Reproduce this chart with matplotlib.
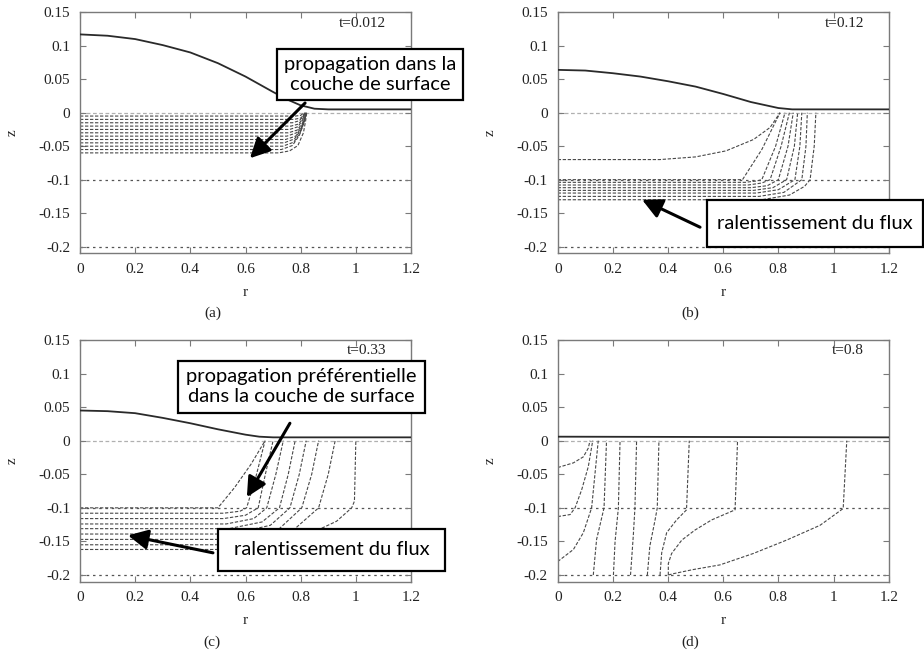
import matplotlib

matplotlib.use("Agg")
import matplotlib.pyplot as plt
from matplotlib.patches import Rectangle

# ---- data --------------------------------------------------------------
R_TICKS = [0, 0.2, 0.4, 0.6, 0.8, 1, 1.2]
Z_TICKS = [-0.2, -0.15, -0.1, -0.05, 0, 0.05, 0.1, 0.15]
R_TICK_LABELS = ["0", "0.2", "0.4", "0.6", "0.8", "1", "1.2"]
Z_TICK_LABELS = ["-0.2", "-0.15", "-0.1", "-0.05", "0", "0.05", "0.1", "0.15"]
LAYER_Z = [-0.1, -0.2]

TIMES = ["t=0.012", "t=0.12", "t=0.33", "t=0.8"]
PANEL_TAGS = ["(a)", "(b)", "(c)", "(d)"]

# free surface (solid line)
surf_a_r = [0, 0.1, 0.2, 0.3, 0.4, 0.5, 0.6, 0.7, 0.75, 0.8, 0.85, 0.9, 1.2]
surf_a_z = [0.117, 0.115, 0.110, 0.101, 0.090, 0.074, 0.054, 0.031, 0.020, 0.011, 0.006, 0.005, 0.005]
surf_b_r = [0, 0.1, 0.2, 0.3, 0.4, 0.5, 0.6, 0.7, 0.8, 0.85, 1.2]
surf_b_z = [0.064, 0.063, 0.059, 0.054, 0.047, 0.039, 0.028, 0.016, 0.007, 0.005, 0.005]
surf_c_r = [0, 0.1, 0.2, 0.3, 0.4, 0.5, 0.6, 0.65, 0.7, 1.2]
surf_c_z = [0.045, 0.044, 0.041, 0.034, 0.026, 0.017, 0.009, 0.006, 0.005, 0.005]
surf_d_r = [0, 1.2]
surf_d_z = [0.006, 0.005]

# front lines (dashed), one list per line
front_a_r = [
    [0, 0.78, 0.800, 0.812],
    [0, 0.775, 0.800, 0.810, 0.814],
    [0, 0.770, 0.795, 0.808, 0.815],
    [0, 0.765, 0.792, 0.808, 0.816],
    [0, 0.760, 0.790, 0.807, 0.817],
    [0, 0.755, 0.787, 0.806, 0.815, 0.818],
    [0, 0.750, 0.785, 0.805, 0.815, 0.819],
    [0, 0.745, 0.782, 0.803, 0.815, 0.820],
    [0, 0.740, 0.778, 0.800, 0.814, 0.820],
    [0, 0.735, 0.775, 0.798, 0.813, 0.821],
    [0, 0.730, 0.770, 0.795, 0.812, 0.821],
    [0, 0.720, 0.760, 0.790, 0.810, 0.818, 0.822],
]
front_a_z = [
    [-0.005, -0.005, -0.004, 0],
    [-0.010, -0.010, -0.008, -0.004, 0],
    [-0.015, -0.015, -0.012, -0.006, 0],
    [-0.020, -0.020, -0.017, -0.009, 0],
    [-0.025, -0.025, -0.021, -0.011, 0],
    [-0.030, -0.030, -0.026, -0.016, -0.007, 0],
    [-0.035, -0.035, -0.030, -0.019, -0.008, 0],
    [-0.040, -0.040, -0.035, -0.022, -0.009, 0],
    [-0.045, -0.045, -0.039, -0.026, -0.011, 0],
    [-0.050, -0.050, -0.044, -0.030, -0.013, 0],
    [-0.055, -0.055, -0.049, -0.034, -0.015, 0],
    [-0.060, -0.060, -0.057, -0.049, -0.030, -0.012, 0],
]

front_b_r = [
    [0, 0.37, 0.50, 0.61, 0.71, 0.77, 0.806],
    [0, 0.67, 0.74, 0.806],
    [0, 0.68, 0.72, 0.74, 0.79, 0.824],
    [0, 0.69, 0.74, 0.77, 0.81, 0.84],
    [0, 0.70, 0.76, 0.80, 0.835, 0.854],
    [0, 0.71, 0.78, 0.83, 0.858, 0.87],
    [0, 0.72, 0.80, 0.86, 0.878, 0.885],
    [0, 0.73, 0.82, 0.885, 0.90, 0.905],
    [0, 0.74, 0.84, 0.895, 0.915, 0.93, 0.936],
]
front_b_z = [
    [-0.07, -0.07, -0.066, -0.057, -0.040, -0.022, 0],
    [-0.100, -0.100, -0.055, 0],
    [-0.104, -0.104, -0.102, -0.100, -0.05, 0],
    [-0.108, -0.108, -0.105, -0.100, -0.05, 0],
    [-0.112, -0.112, -0.109, -0.100, -0.05, 0],
    [-0.116, -0.116, -0.112, -0.100, -0.05, 0],
    [-0.120, -0.120, -0.115, -0.100, -0.05, 0],
    [-0.125, -0.125, -0.119, -0.100, -0.05, 0],
    [-0.130, -0.130, -0.123, -0.110, -0.100, -0.05, 0],
]

front_c_r = [
    [0, 0.50, 0.56, 0.62, 0.671],
    [0, 0.52, 0.58, 0.604, 0.635, 0.671],
    [0, 0.52, 0.60, 0.646, 0.672, 0.70],
    [0, 0.53, 0.63, 0.677, 0.71, 0.737],
    [0, 0.54, 0.66, 0.723, 0.755, 0.78],
    [0, 0.55, 0.69, 0.761, 0.795, 0.82],
    [0, 0.56, 0.72, 0.804, 0.84, 0.865],
    [0, 0.57, 0.76, 0.865, 0.90, 0.925],
    [0, 0.58, 0.80, 0.93, 0.985, 0.995, 1.0],
]
front_c_z = [
    [-0.100, -0.100, -0.070, -0.035, 0],
    [-0.108, -0.108, -0.105, -0.100, -0.058, 0],
    [-0.116, -0.116, -0.111, -0.100, -0.05, 0],
    [-0.124, -0.124, -0.116, -0.100, -0.05, 0],
    [-0.131, -0.131, -0.121, -0.100, -0.05, 0],
    [-0.139, -0.139, -0.126, -0.100, -0.05, 0],
    [-0.147, -0.147, -0.132, -0.100, -0.05, 0],
    [-0.155, -0.155, -0.138, -0.100, -0.05, 0],
    [-0.162, -0.162, -0.145, -0.120, -0.100, -0.09, 0],
]

front_d_r = [
    [0, 0.057, 0.093, 0.111, 0.117],
    [0, 0.045, 0.063, 0.087, 0.111, 0.127],
    [0, 0.057, 0.093, 0.123, 0.135, 0.147],
    [0.129, 0.141, 0.168, 0.177],
    [0.202, 0.208, 0.220, 0.226],
    [0.264, 0.274, 0.280, 0.286],
    [0.325, 0.334, 0.353, 0.361, 0.367],
    [0.371, 0.377, 0.395, 0.431, 0.467, 0.477],
    [0.401, 0.401, 0.413, 0.450, 0.498, 0.558, 0.643, 0.652],
    [0.401, 0.42, 0.49, 0.588, 0.709, 0.830, 0.951, 1.035, 1.048],
]
front_d_z = [
    [-0.040, -0.033, -0.024, -0.011, 0],
    [-0.113, -0.110, -0.100, -0.073, -0.0385, 0],
    [-0.180, -0.162, -0.137, -0.100, -0.05, 0],
    [-0.200, -0.147, -0.100, 0],
    [-0.200, -0.150, -0.100, 0],
    [-0.200, -0.142, -0.100, 0],
    [-0.200, -0.157, -0.118, -0.100, 0],
    [-0.200, -0.167, -0.137, -0.118, -0.103, 0],
    [-0.200, -0.183, -0.168, -0.148, -0.133, -0.118, -0.103, 0],
    [-0.200, -0.198, -0.192, -0.185, -0.168, -0.148, -0.126, -0.101, 0],
]

SURF_R = [surf_a_r, surf_b_r, surf_c_r, surf_d_r]
SURF_Z = [surf_a_z, surf_b_z, surf_c_z, surf_d_z]
FRONT_R = [front_a_r, front_b_r, front_c_r, front_d_r]
FRONT_Z = [front_a_z, front_b_z, front_c_z, front_d_z]

# ---- figure --------------------------------------------------------------
W, H = 924, 652
fig = plt.figure(figsize=(W / 100, H / 100), dpi=100)

# panel boxes in pixels: left, top, width, height
boxes = [(80, 12.3, 331, 241), (557.7, 12.3, 331, 241),
         (80, 340, 331, 241.7), (557.7, 340, 331, 241.7)]

SERIF = "Liberation Serif"
SANS = "Lato"
FRAME = "#7a7a7a"

axes = []
for i, (l, t, w, h) in enumerate(boxes):
    ax = fig.add_axes([l / W, (H - t - h) / H, w / W, h / H])
    axes.append(ax)

    # layer boundaries
    ax.plot([0, 1.2], [0, 0], color="#b0b0b0", lw=0.9, ls=(0, (3, 2)), zorder=1)
    for zl in LAYER_Z:
        ax.plot([0, 1.2], [zl, zl], color="#555555", lw=0.9, ls=(0, (2, 3)), zorder=1)

    for fr, fz in zip(FRONT_R[i], FRONT_Z[i]):
        ax.plot(fr, fz, color="#484848", lw=0.8, ls=(0, (3, 1.5)), zorder=2)

    ax.plot(SURF_R[i], SURF_Z[i], color="#2a2a2a", lw=1.3, zorder=3)

    ax.set_xlim(0, 1.2)
    ax.set_ylim(-0.21, 0.15)
    ax.set_xticks(R_TICKS)
    ax.set_xticklabels(R_TICK_LABELS, family=SERIF, fontsize=11, color="#222222")
    ax.set_yticks(Z_TICKS)
    ax.set_yticklabels(Z_TICK_LABELS, family=SERIF, fontsize=11, color="#222222")
    ax.tick_params(direction="in", length=4, width=0.8, color=FRAME,
                   top=True, right=True, pad=7)
    for sp in ax.spines.values():
        sp.set_color(FRAME)
        sp.set_linewidth(1.0)

    ax.set_xlabel("r", family=SERIF, fontsize=11, labelpad=7, color="#222222")
    ax.set_ylabel("z", family=SERIF, fontsize=11, labelpad=14, color="#222222")
    ax.text(0.925, 0.955, TIMES[i], transform=ax.transAxes, ha="right", va="center",
            family=SERIF, fontsize=11, color="#222222")
    ax.text(0.40, -0.25, PANEL_TAGS[i], transform=ax.transAxes, ha="center",
            va="center", family=SERIF, fontsize=11, color="#222222")

# ---- callouts ------------------------------------------------------------
arrow_style = dict(arrowstyle="-|>,head_length=0.6,head_width=0.3", lw=2.2,
                   color="black", mutation_scale=20, shrinkA=0, shrinkB=0)


def callout(ax, text, box, tail, head):
    r0, z0, r1, z1 = box
    ax.annotate("", xy=head, xytext=tail, arrowprops=arrow_style,
                annotation_clip=False, zorder=9)
    ax.add_patch(Rectangle((r0, z0), r1 - r0, z1 - z0, fc="white", ec="black",
                           lw=1.6, clip_on=False, zorder=10))
    ax.text((r0 + r1) / 2, (z0 + z1) / 2, text, ha="center", va="center",
            family=SANS, fontsize=14.5, zorder=11, clip_on=False, linespacing=1.2)


callout(axes[0], "propagation dans la\ncouche de surface", (0.714, 0.019, 1.389, 0.095),
        (0.816, 0.0145), (0.616, -0.068))
callout(axes[1], "ralentissement du flux", (0.541, -0.2006, 1.325, -0.1304),
        (0.516, -0.171), (0.306, -0.130))
callout(axes[2], "propagation préférentielle\ndans la couche de surface",
        (0.355, 0.0416, 1.251, 0.1191), (0.761, 0.026), (0.605, -0.084))
callout(axes[2], "ralentissement du flux", (0.500, -0.1938, 1.323, -0.1317),
        (0.482, -0.167), (0.174, -0.141))

fig.savefig("out.png", dpi=100)
